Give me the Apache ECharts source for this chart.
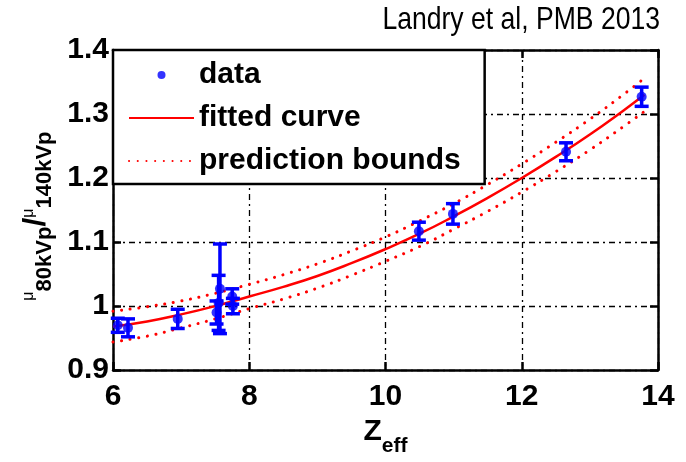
<!DOCTYPE html>
<html>
<head>
<meta charset="utf-8">
<script src="https://cdn.jsdelivr.net/npm/echarts@6/dist/echarts.min.js"></script>
<style>
  html, body { margin: 0; padding: 0; background: #fff; }
  #chart { width: 686px; height: 462px; }
</style>
</head>
<body>
<div id="chart"></div>
<script>
// measured points
const zEff = [6.07, 6.22, 6.95, 7.52, 7.57, 7.55, 7.75, 7.76, 10.49, 10.99, 12.65, 13.76];
const ratio = [0.970, 0.966, 0.980, 0.990, 1.027, 1.005, 1.015, 1.000, 1.117, 1.144, 1.241, 1.327];
const ratioErr = [0.011, 0.014, 0.015, 0.018, 0.070, 0.043, 0.012, 0.012, 0.014, 0.016, 0.014, 0.015];

// fitted curve and prediction bounds
const fitZ = [6, 6.5, 7, 7.5, 8, 8.5, 9, 9.5, 10, 10.5, 11, 11.5, 12, 12.5, 13, 13.5, 13.8];
const fitVal = [0.968, 0.976, 0.987, 1.000, 1.015, 1.030, 1.047, 1.067, 1.089, 1.113, 1.140, 1.169, 1.200, 1.233, 1.268, 1.306, 1.330];
const upperVal = [0.992, 0.999, 1.008, 1.020, 1.034, 1.049, 1.066, 1.086, 1.108, 1.133, 1.160, 1.190, 1.222, 1.256, 1.292, 1.331, 1.356];
const lowerVal = [0.944, 0.953, 0.966, 0.980, 0.996, 1.011, 1.028, 1.048, 1.070, 1.093, 1.120, 1.148, 1.178, 1.210, 1.244, 1.281, 1.304];

const xTicks = [6, 8, 10, 12, 14];
const yTicks = [0.9, 1, 1.1, 1.2, 1.3, 1.4];

const BLUE = '#0000ff';
const RED = '#ff0000';
const FONT = '"Liberation Sans", Arial, Helvetica, sans-serif';

const chart = echarts.init(document.getElementById('chart'));

const pairs = (xs, ys) => xs.map((x, i) => [x, ys[i]]);
const errData = zEff.map((x, i) => [x, ratio[i] - ratioErr[i], ratio[i] + ratioErr[i]]);

const frame = { show: true, onZero: false, lineStyle: { color: '#000', width: 2.5 } };
const tick = { show: true, inside: true, length: 8, lineStyle: { color: '#000', width: 2.5 } };
const grid = { show: true, lineStyle: { color: '#000', width: 1.3, type: [6, 4, 2, 4] } };
const dots = { color: RED, width: 3, type: [0.1, 8.6], cap: 'round' };

chart.setOption({
  animation: false,
  backgroundColor: '#fff',
  graphic: [{
    type: 'text',
    x: 660,
    y: 4,
    scaleX: 0.83,
    style: {
      text: 'Landry et al, PMB 2013',
      align: 'right',
      verticalAlign: 'top',
      fill: '#000',
      font: 'normal 32px ' + FONT
    }
  }],
  grid: { left: 113, right: 28, top: 50, bottom: 79 },
  legend: {
    orient: 'vertical',
    left: 113,
    top: 50,
    backgroundColor: '#fff',
    borderColor: '#000',
    borderWidth: 2.5,
    borderRadius: 0,
    padding: [10, 24, 8, 15],
    itemWidth: 65,
    itemHeight: 8,
    itemGap: 13,
    textStyle: { fontFamily: FONT, fontSize: 30, fontWeight: 'bold', color: '#000' },
    data: [
      { name: 'data' },
      { name: 'fitted curve', itemStyle: { opacity: 0 } },
      { name: 'prediction bounds', itemStyle: { opacity: 0 } }
    ]
  },
  xAxis: [{
    type: 'value', min: xTicks[0], max: xTicks[xTicks.length - 1], interval: 2,
    axisLine: frame, axisTick: tick, splitLine: grid,
    axisLabel: { margin: 12, color: '#000', fontFamily: FONT, fontSize: 30, fontWeight: 'bold' },
    name: '{z|Z}{s|eff}',
    nameLocation: 'middle',
    nameGap: 40,
    nameTextStyle: {
      rich: {
        z: { fontFamily: FONT, fontSize: 30, fontWeight: 'bold', color: '#000', lineHeight: 40, verticalAlign: 'top' },
        s: { fontFamily: FONT, fontSize: 21, fontWeight: 'bold', color: '#000', lineHeight: 40, verticalAlign: 'bottom' }
      }
    }
  }, {
    type: 'value', position: 'top', min: xTicks[0], max: xTicks[xTicks.length - 1], interval: 2,
    axisLine: frame, axisTick: tick, axisLabel: { show: false }, splitLine: { show: false }
  }],
  yAxis: [{
    type: 'value', min: yTicks[0], max: yTicks[yTicks.length - 1], interval: 0.1,
    axisLine: frame, axisTick: tick, splitLine: grid,
    axisLabel: { margin: 4, color: '#000', fontFamily: FONT, fontSize: 30, fontWeight: 'bold',
      formatter: v => String(Math.round(v * 10) / 10) },
    name: '{m|μ}{s|80kVp}{d|/}{m|μ}{t|140kVp}{g|}',
    nameLocation: 'middle',
    nameGap: 56,
    nameRotate: 90,
    nameTextStyle: {
      rich: {
        m: { fontFamily: FONT, fontSize: 16, color: '#000', lineHeight: 36, verticalAlign: 'top' },
        s: { fontFamily: FONT, fontSize: 22, fontWeight: 'bold', color: '#000', lineHeight: 36, verticalAlign: 'bottom' },
        t: { fontFamily: FONT, fontSize: 22, fontWeight: 'bold', color: '#000', lineHeight: 32, verticalAlign: 'bottom' },
        d: { fontFamily: FONT, fontSize: 32, fontWeight: 'bold', color: '#000', lineHeight: 36, verticalAlign: 'top' },
        g: { width: 12, lineHeight: 36 }
      }
    }
  }, {
    type: 'value', position: 'right', min: yTicks[0], max: yTicks[yTicks.length - 1], interval: 0.1,
    axisLine: frame, axisTick: tick, axisLabel: { show: false }, splitLine: { show: false }
  }],
  series: [
    {
      name: 'prediction bounds', type: 'line', data: pairs(fitZ, upperVal), smooth: true,
      showSymbol: false, symbol: 'none', color: RED, lineStyle: dots, z: 3
    },
    {
      name: 'prediction bounds', type: 'line', data: pairs(fitZ, lowerVal), smooth: true,
      showSymbol: false, symbol: 'none', color: RED, lineStyle: dots, z: 3
    },
    {
      name: 'fitted curve', type: 'line', data: pairs(fitZ, fitVal), smooth: true,
      showSymbol: false, symbol: 'none', color: RED,
      lineStyle: { color: RED, width: 2.5 }, z: 3
    },
    {
      name: 'error', type: 'custom', data: errData, z: 4,
      renderItem: (params, api) => {
        const x = api.value(0);
        const lo = api.coord([x, api.value(1)]);
        const hi = api.coord([x, api.value(2)]);
        const w = 7;
        const st = { stroke: BLUE, lineWidth: 3.5 };
        return {
          type: 'group',
          children: [
            { type: 'line', shape: { x1: hi[0], y1: hi[1], x2: lo[0], y2: lo[1] }, style: st },
            { type: 'line', shape: { x1: hi[0] - w, y1: hi[1], x2: hi[0] + w, y2: hi[1] }, style: st },
            { type: 'line', shape: { x1: lo[0] - w, y1: lo[1], x2: lo[0] + w, y2: lo[1] }, style: st }
          ]
        };
      }
    },
    {
      name: 'data', type: 'scatter', data: pairs(zEff, ratio), symbol: 'circle', symbolSize: 10,
      color: BLUE, itemStyle: { color: BLUE }, z: 5
    }
  ]
});
</script>
</body>
</html>
